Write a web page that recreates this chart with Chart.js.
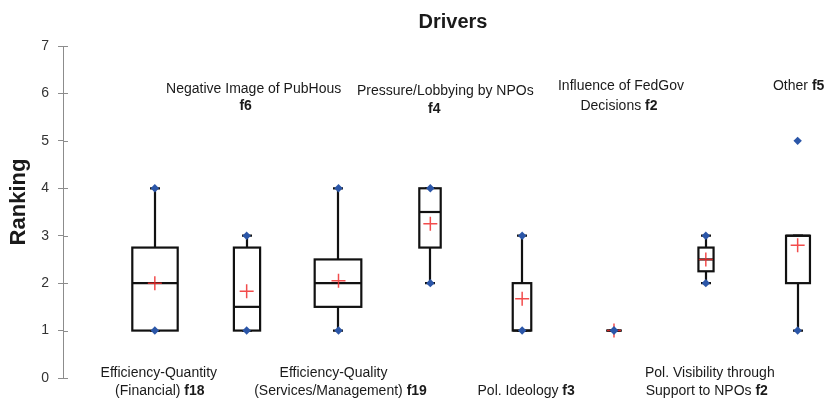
<!DOCTYPE html>
<html>
<head>
<meta charset="utf-8">
<script src="https://cdn.jsdelivr.net/npm/chart.js@4"></script>
<style>
  html, body { margin: 0; padding: 0; background: #fff; }
  #wrap { width: 836px; height: 398px; }
</style>
</head>
<body>
<div id="wrap"><canvas id="drivers"></canvas></div>
<script>
// Drivers – box plots of rankings
const categories = [
    'Efficiency-Quantity\n(Financial)',
    'Negative Image of PubHous\n',
    'Efficiency-Quality\n(Services/Management)',
    'Pressure/Lobbying by NPOs\n',
    'Pol. Ideology',
    'Influence of FedGov\nDecisions',
    'Pol. Visibility through\nSupport to NPOs',
    'Other'
];
const factorCodes = ['f18', 'f6', 'f19', 'f4', 'f3', 'f2', 'f2', 'f5'];
const sampleSizes = [18, 6, 19, 4, 3, 2, 2, 5];

const minValues = [1, 1, 1, 2, 1, 1, 2, 1];
const q1Values = [1, 1, 1.5, 2.75, 1, 1, 2.25, 2];
const medianValues = [2, 1.5, 2, 3.5, 1, 1, 2.5, 3];
const q3Values = [2.75, 2.75, 2.5, 4, 2, 1, 2.75, 3];
const upperWhiskers = [4, 3, 4, 4, 3, 1, 3, 3];
const maxValues = [4, 3, 4, 4, 3, 1, 3, 5];
const meanValues = [2, 1.83, 2.05, 3.25, 1.67, 1, 2.5, 2.8];

const yTicks = [0, 1, 2, 3, 4, 5, 6, 7];

// label placement (px offsets from the box centre, per line)
const labelLayout = [
    { dx: [4, 5], y: [373, 391] },
    { dx: [7, -1], y: [89, 106] },
    { dx: [-5, 2], y: [373, 391] },
    { dx: [15, 4], y: [91, 109] },
    { dx: [4], y: [391] },
    { dx: [7, 5], y: [86, 106] },
    { dx: [4, 1], y: [373, 391] },
    { dx: [1], y: [86] }
];

const FONT = "'Liberation Sans', Arial, sans-serif";

var extremePoints = [];
categories.forEach(function (c, i) {
    extremePoints.push({ x: i + 1, y: minValues[i] });
    extremePoints.push({ x: i + 1, y: maxValues[i] });
});
var meanPoints = meanValues.map(function (v, i) { return { x: i + 1, y: v }; });

var boxPlugin = {
    id: 'boxes',
    beforeDatasetsDraw: function (chart) {
        var ctx = chart.ctx, xs = chart.scales.x, ys = chart.scales.y;
        ctx.save();
        ctx.strokeStyle = '#111';
        ctx.lineWidth = 2.2;
        ctx.lineCap = 'butt';
        categories.forEach(function (c, i) {
            var cx = Math.round(xs.getPixelForValue(i + 1));
            var half = 10.7 * Math.sqrt(sampleSizes[i]) / 2;
            var yq1 = ys.getPixelForValue(q1Values[i]);
            var yq3 = ys.getPixelForValue(q3Values[i]);
            var ymed = ys.getPixelForValue(medianValues[i]);
            var ylo = ys.getPixelForValue(minValues[i]);
            var yhi = ys.getPixelForValue(upperWhiskers[i]);
            // whiskers
            ctx.beginPath();
            ctx.moveTo(cx, yq3); ctx.lineTo(cx, yhi);
            ctx.moveTo(cx, yq1); ctx.lineTo(cx, ylo);
            ctx.moveTo(cx - 5, yhi); ctx.lineTo(cx + 5, yhi);
            ctx.moveTo(cx - 5, ylo); ctx.lineTo(cx + 5, ylo);
            ctx.stroke();
            // box
            ctx.fillStyle = '#fff';
            ctx.fillRect(cx - half, yq3, half * 2, yq1 - yq3);
            ctx.strokeRect(cx - half, yq3, half * 2, yq1 - yq3);
            // median
            ctx.beginPath();
            ctx.moveTo(cx - half, ymed); ctx.lineTo(cx + half, ymed);
            ctx.stroke();
        });
        ctx.restore();
    },
    afterDraw: function (chart) {
        var ctx = chart.ctx, xs = chart.scales.x, ys = chart.scales.y;
        ctx.save();
        // inner half of the y tick marks
        ctx.strokeStyle = '#8c8c8c';
        ctx.lineWidth = 1;
        ctx.beginPath();
        yTicks.forEach(function (t) {
            var y = Math.round(ys.getPixelForValue(t)) + 0.5;
            ctx.moveTo(xs.left, y); ctx.lineTo(xs.left + 5, y);
        });
        ctx.stroke();

        // title and axis title
        ctx.fillStyle = '#1a1a1a';
        ctx.textAlign = 'center';
        ctx.textBaseline = 'alphabetic';
        ctx.font = 'bold 20px ' + FONT;
        ctx.fillText('Drivers', 453, 28);
        ctx.save();
        ctx.translate(25, 202);
        ctx.rotate(-Math.PI / 2);
        ctx.font = 'bold 22px ' + FONT;
        ctx.fillText('Ranking', 0, 0);
        ctx.restore();

        // category labels
        ctx.textBaseline = 'middle';
        ctx.textAlign = 'left';
        categories.forEach(function (c, i) {
            var cx = xs.getPixelForValue(i + 1);
            var lines = c.split('\n');
            var lay = labelLayout[i];
            lines.forEach(function (line, j) {
                var last = j === lines.length - 1;
                ctx.font = '14px ' + FONT;
                var txt = last && line ? line + ' ' : line;
                var w1 = ctx.measureText(txt).width;
                var w2 = 0;
                if (last) {
                    ctx.font = 'bold 14px ' + FONT;
                    w2 = ctx.measureText(factorCodes[i]).width;
                }
                var x0 = cx + lay.dx[j] - (w1 + w2) / 2;
                ctx.font = '14px ' + FONT;
                ctx.fillText(txt, x0, lay.y[j]);
                if (last) {
                    ctx.font = 'bold 14px ' + FONT;
                    ctx.fillText(factorCodes[i], x0 + w1, lay.y[j]);
                }
            });
        });
        ctx.restore();
    }
};

var ctx = document.getElementById('drivers').getContext('2d');
var chart = new Chart(ctx, {
    type: 'scatter',
    data: {
        datasets: [{
            label: 'Mean',
            data: meanPoints,
            pointStyle: 'cross',
            pointRadius: 7,
            borderColor: 'rgba(240, 45, 45, 0.85)',
            borderWidth: 1.5,
            order: 2
        }, {
            label: 'Min / Max',
            data: extremePoints,
            pointStyle: 'rectRot',
            pointRadius: 4.2,
            backgroundColor: '#2b56a8',
            borderColor: '#2b56a8',
            borderWidth: 0,
            order: 1
        }]
    },
    options: {
        responsive: true,
        maintainAspectRatio: false,
        animation: false,
        layout: { padding: { top: 46, bottom: 20, left: 0, right: 0 } },
        plugins: {
            legend: { display: false },
            tooltip: { enabled: false },
            title: { display: false }
        },
        scales: {
            x: {
                type: 'linear',
                min: 0,
                max: 8.325,
                display: false
            },
            y: {
                min: 0,
                max: 7,
                afterFit: function (s) { s.width = 63; },
                afterBuildTicks: function (s) { s.ticks = yTicks.map(function (v) { return { value: v }; }); },
                ticks: {
                    padding: 9,
                    color: '#333',
                    font: { family: FONT, size: 14 }
                },
                grid: {
                    drawOnChartArea: false,
                    drawTicks: true,
                    tickLength: 5,
                    color: '#8c8c8c'
                },
                border: { color: '#8c8c8c' }
            }
        }
    },
    plugins: [boxPlugin]
});
</script>
</body>
</html>
